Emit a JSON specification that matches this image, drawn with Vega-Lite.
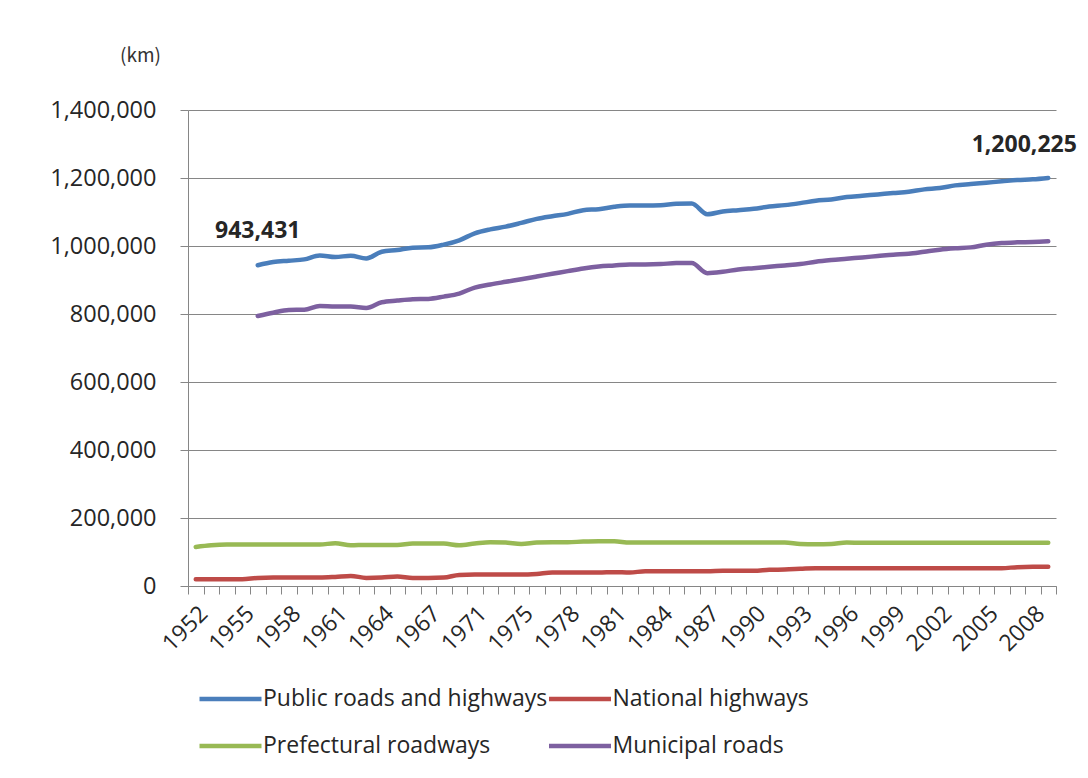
{
  "$schema": "https://vega.github.io/schema/vega-lite/v6.json",
  "width": 868,
  "height": 476,
  "autosize": {"type": "none"},
  "padding": {"left": 188, "top": 110, "right": 32, "bottom": 192},
  "background": "white",
  "config": {"view": {"stroke": null}, "font": "Open Sans"},
  "data": {"values": [
    {"year": "1952", "National highways": 19800, "Prefectural roadways": 114800},
    {"year": "1953", "National highways": 19800, "Prefectural roadways": 119800},
    {"year": "1954", "National highways": 19800, "Prefectural roadways": 121800},
    {"year": "1955", "National highways": 19800, "Prefectural roadways": 121800},
    {"year": "1956", "Public roads and highways": 943431, "National highways": 23800, "Prefectural roadways": 121800, "Municipal roads": 794100},
    {"year": "1957", "Public roads and highways": 952700, "National highways": 24750, "Prefectural roadways": 121800, "Municipal roads": 803900},
    {"year": "1958", "Public roads and highways": 956700, "National highways": 24750, "Prefectural roadways": 121800, "Municipal roads": 811800},
    {"year": "1959", "Public roads and highways": 960600, "National highways": 24750, "Prefectural roadways": 121800, "Municipal roads": 812800},
    {"year": "1960", "Public roads and highways": 972400, "National highways": 24750, "Prefectural roadways": 121800, "Municipal roads": 823600},
    {"year": "1961", "Public roads and highways": 967500, "National highways": 26700, "Prefectural roadways": 126000, "Municipal roads": 821700},
    {"year": "1962", "Public roads and highways": 971400, "National highways": 29700, "Prefectural roadways": 119800, "Municipal roads": 821700},
    {"year": "1963", "Public roads and highways": 963500, "National highways": 23800, "Prefectural roadways": 120800, "Municipal roads": 817700},
    {"year": "1964", "Public roads and highways": 983300, "National highways": 24750, "Prefectural roadways": 120800, "Municipal roads": 834500},
    {"year": "1965", "Public roads and highways": 988200, "National highways": 27700, "Prefectural roadways": 120800, "Municipal roads": 839400},
    {"year": "1966", "Public roads and highways": 995100, "National highways": 23800, "Prefectural roadways": 124700, "Municipal roads": 843300},
    {"year": "1967", "Public roads and highways": 996000, "National highways": 23800, "Prefectural roadways": 124700, "Municipal roads": 844300},
    {"year": "1969", "Public roads and highways": 1003900, "National highways": 24750, "Prefectural roadways": 124700, "Municipal roads": 851200},
    {"year": "1970", "Public roads and highways": 1016700, "National highways": 32700, "Prefectural roadways": 119800, "Municipal roads": 860100},
    {"year": "1971", "Public roads and highways": 1037400, "National highways": 33700, "Prefectural roadways": 124700, "Municipal roads": 877800},
    {"year": "1973", "Public roads and highways": 1049000, "National highways": 33700, "Prefectural roadways": 128700, "Municipal roads": 886700},
    {"year": "1974", "Public roads and highways": 1057000, "National highways": 33700, "Prefectural roadways": 127700, "Municipal roads": 894600},
    {"year": "1975", "Public roads and highways": 1068000, "National highways": 33700, "Prefectural roadways": 123700, "Municipal roads": 902400},
    {"year": "1976", "Public roads and highways": 1079800, "National highways": 35600, "Prefectural roadways": 127700, "Municipal roads": 910300},
    {"year": "1977", "Public roads and highways": 1087700, "National highways": 39600, "Prefectural roadways": 128700, "Municipal roads": 918200},
    {"year": "1978", "Public roads and highways": 1094600, "National highways": 39600, "Prefectural roadways": 128700, "Municipal roads": 926100},
    {"year": "1979", "Public roads and highways": 1105400, "National highways": 39600, "Prefectural roadways": 130700, "Municipal roads": 934000},
    {"year": "1980", "Public roads and highways": 1108400, "National highways": 39600, "Prefectural roadways": 131700, "Municipal roads": 939900},
    {"year": "1981", "Public roads and highways": 1115300, "National highways": 40600, "Prefectural roadways": 131700, "Municipal roads": 942800},
    {"year": "1982", "Public roads and highways": 1119200, "National highways": 39600, "Prefectural roadways": 127700, "Municipal roads": 945800},
    {"year": "1983", "Public roads and highways": 1119200, "National highways": 43600, "Prefectural roadways": 127700, "Municipal roads": 945800},
    {"year": "1984", "Public roads and highways": 1120200, "National highways": 43600, "Prefectural roadways": 127700, "Municipal roads": 946800},
    {"year": "1985", "Public roads and highways": 1124000, "National highways": 43600, "Prefectural roadways": 127700, "Municipal roads": 949700},
    {"year": "1986", "Public roads and highways": 1125000, "National highways": 43600, "Prefectural roadways": 127700, "Municipal roads": 949700},
    {"year": "1987", "Public roads and highways": 1093600, "National highways": 43600, "Prefectural roadways": 127700, "Municipal roads": 920200},
    {"year": "1988", "Public roads and highways": 1101500, "National highways": 44600, "Prefectural roadways": 127700, "Municipal roads": 924100},
    {"year": "1989", "Public roads and highways": 1105400, "National highways": 44600, "Prefectural roadways": 127700, "Municipal roads": 931000},
    {"year": "1990", "Public roads and highways": 1109300, "National highways": 44600, "Prefectural roadways": 127700, "Municipal roads": 934900},
    {"year": "1991", "Public roads and highways": 1116200, "National highways": 47500, "Prefectural roadways": 127700, "Municipal roads": 938900},
    {"year": "1992", "Public roads and highways": 1120200, "National highways": 48500, "Prefectural roadways": 127700, "Municipal roads": 942800},
    {"year": "1993", "Public roads and highways": 1126100, "National highways": 50500, "Prefectural roadways": 123700, "Municipal roads": 946800},
    {"year": "1994", "Public roads and highways": 1133000, "National highways": 52500, "Prefectural roadways": 122800, "Municipal roads": 953700},
    {"year": "1995", "Public roads and highways": 1137000, "National highways": 52500, "Prefectural roadways": 123700, "Municipal roads": 958600},
    {"year": "1996", "Public roads and highways": 1143900, "National highways": 52500, "Prefectural roadways": 127700, "Municipal roads": 962500},
    {"year": "1997", "Public roads and highways": 1147800, "National highways": 52500, "Prefectural roadways": 127200, "Municipal roads": 966500},
    {"year": "1998", "Public roads and highways": 1151700, "National highways": 52500, "Prefectural roadways": 127200, "Municipal roads": 970400},
    {"year": "1999", "Public roads and highways": 1155600, "National highways": 52500, "Prefectural roadways": 127200, "Municipal roads": 974300},
    {"year": "2000", "Public roads and highways": 1159600, "National highways": 52500, "Prefectural roadways": 127200, "Municipal roads": 977300},
    {"year": "2001", "Public roads and highways": 1166500, "National highways": 52500, "Prefectural roadways": 127200, "Municipal roads": 983200},
    {"year": "2002", "Public roads and highways": 1170400, "National highways": 52500, "Prefectural roadways": 127200, "Municipal roads": 989100},
    {"year": "2003", "Public roads and highways": 1178300, "National highways": 52500, "Prefectural roadways": 127200, "Municipal roads": 993100},
    {"year": "2004", "Public roads and highways": 1182300, "National highways": 52500, "Prefectural roadways": 127200, "Municipal roads": 996000},
    {"year": "2005", "Public roads and highways": 1186200, "National highways": 52500, "Prefectural roadways": 127200, "Municipal roads": 1003900},
    {"year": "2006", "Public roads and highways": 1190100, "National highways": 52500, "Prefectural roadways": 127200, "Municipal roads": 1008800},
    {"year": "2007", "Public roads and highways": 1194100, "National highways": 55400, "Prefectural roadways": 127200, "Municipal roads": 1010800},
    {"year": "2008", "Public roads and highways": 1196100, "National highways": 56400, "Prefectural roadways": 127200, "Municipal roads": 1011800},
    {"year": "2009", "Public roads and highways": 1200225, "National highways": 56400, "Prefectural roadways": 127200, "Municipal roads": 1013700}
  ]},
  "transform": [
    {"fold": ["Public roads and highways", "National highways", "Prefectural roadways", "Municipal roads"], "as": ["series", "km"]},
    {"filter": "isValid(datum.km)"}
  ],
  "layer": [
    {
      "mark": {"type": "line", "interpolate": "monotone", "strokeWidth": 4.5, "strokeCap": "round"},
      "encoding": {
        "x": {
          "field": "year", "type": "ordinal", "bandPosition": 0.5,
          "scale": {"type": "band", "paddingInner": 0, "paddingOuter": 0},
          "axis": {
            "title": null, "grid": false, "tickBand": "extent", "labelAngle": -45,
            "labelExpr": "indexof(['1952','1955','1958','1961','1964','1967','1971','1975','1978','1981','1984','1987','1990','1993','1996','1999','2002','2005','2008'], datum.label) >= 0 ? datum.label : ''",
            "labelOverlap": false, "labelBound": false,
            "labelFont": "Open Sans", "labelFontSize": 23, "labelColor": "#262626", "labelPadding": 8,
            "tickSize": 8, "tickColor": "#868686", "domainColor": "#868686"
          }
        },
        "y": {
          "field": "km", "type": "quantitative",
          "scale": {"domain": [0, 1400000]},
          "axis": {
            "values": [0, 200000, 400000, 600000, 800000, 1000000, 1200000, 1400000],
            "labelExpr": "format(datum.value, ',.0f')",
            "title": "(km)", "titleAngle": 0, "titleX": -48, "titleY": -55,
            "titleAlign": "center", "titleBaseline": "middle",
            "titleFont": "Noto Sans CJK JP", "titleFontSize": 19, "titleFontWeight": "normal", "titleColor": "#333333",
            "labelFont": "Open Sans", "labelFontSize": 23.5, "labelColor": "#262626", "labelPadding": 24,
            "tickSize": 8, "tickColor": "#868686", "domainColor": "#868686",
            "gridColor": "#868686", "gridWidth": 1
          }
        },
        "color": {
          "field": "series", "type": "nominal",
          "scale": {
            "domain": ["Public roads and highways", "National highways", "Prefectural roadways", "Municipal roads"],
            "range": ["#4a7ebb", "#be4b48", "#98b954", "#7d60a0"]
          },
          "legend": {
            "orient": "none", "legendX": 24.5, "legendY": 571, "direction": "horizontal", "columns": 2,
            "title": null, "symbolType": "M-2,0H2", "symbolSize": 961, "symbolStrokeWidth": 4.5,
            "labelFont": "Open Sans", "labelFontSize": 23, "labelColor": "#262626", "labelOffset": 14.5, "labelLimit": 500,
            "rowPadding": 17, "columnPadding": -7.5, "padding": 0
          }
        }
      }
    },
    {
      "transform": [{"filter": "datum.series == 'Public roads and highways' && datum.year == '1956'"}],
      "mark": {"type": "text", "font": "Open Sans", "fontWeight": "bold", "fontSize": 23, "dy": -34, "color": "#262626"},
      "encoding": {
        "x": {"field": "year", "type": "ordinal", "bandPosition": 0.5},
        "y": {"field": "km", "type": "quantitative"},
        "text": {"field": "km", "type": "quantitative", "format": ","}
      }
    },
    {
      "transform": [{"filter": "datum.series == 'Public roads and highways' && datum.year == '2009'"}],
      "mark": {"type": "text", "font": "Open Sans", "fontWeight": "bold", "fontSize": 23, "dy": -33, "dx": -24, "color": "#262626"},
      "encoding": {
        "x": {"field": "year", "type": "ordinal", "bandPosition": 0.5},
        "y": {"field": "km", "type": "quantitative"},
        "text": {"field": "km", "type": "quantitative", "format": ","}
      }
    }
  ]
}
